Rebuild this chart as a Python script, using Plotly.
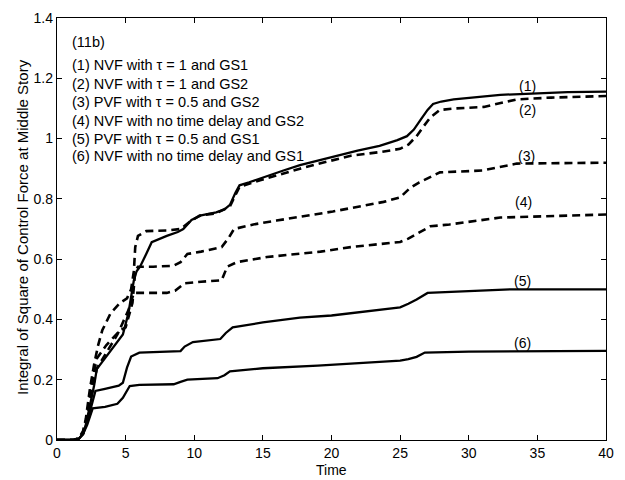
import plotly.graph_objects as go

# ---- data ----
t1 = [0, 1.2, 1.6, 1.9, 2.1, 2.3, 2.5, 2.7, 2.9, 3.3, 4.0, 4.8, 5.2, 5.6, 5.8, 6.05, 6.5, 6.9, 8.0, 8.8, 9.2, 9.8, 10.5, 11.6, 12.2, 12.6, 13.0, 13.3, 14.0, 14.8, 16.5, 17.7, 19.2, 21.9, 23.5, 24.8, 25.5, 26.0, 26.5, 27.0, 27.4, 28.0, 28.9, 32.3, 37.2, 40]
v1 = [0, 0, 0.005, 0.02, 0.05, 0.09, 0.13, 0.18, 0.235, 0.26, 0.30, 0.35, 0.42, 0.53, 0.56, 0.575, 0.617, 0.656, 0.677, 0.69, 0.70, 0.73, 0.745, 0.755, 0.765, 0.78, 0.82, 0.845, 0.855, 0.868, 0.894, 0.912, 0.93, 0.96, 0.976, 0.995, 1.008, 1.03, 1.063, 1.095, 1.115, 1.123, 1.13, 1.145, 1.154, 1.156]

t2 = [0, 1.2, 1.6, 1.9, 2.1, 2.4, 2.7, 3.0, 3.3, 3.9, 4.6, 5.1, 5.4, 5.6, 5.7, 5.9, 6.5, 8.0, 9.0, 9.7, 10.4, 11.6, 12.6, 13.0, 13.3, 14.8, 16.5, 17.7, 19.2, 21.4, 23.5, 25.0, 25.6, 26.2, 26.7, 27.2, 27.9, 29.0, 31.1, 33.5, 36, 40]
v2 = [0, 0, 0.006, 0.03, 0.07, 0.17, 0.25, 0.315, 0.364, 0.42, 0.455, 0.47, 0.50, 0.56, 0.64, 0.677, 0.693, 0.695, 0.70, 0.725, 0.745, 0.752, 0.775, 0.815, 0.84, 0.862, 0.885, 0.90, 0.918, 0.943, 0.955, 0.966, 0.98, 1.008, 1.04, 1.07, 1.095, 1.10, 1.105, 1.13, 1.136, 1.141]

t3 = [0, 1.2, 1.6, 1.9, 2.2, 2.5, 2.9, 3.6, 4.6, 5.0, 5.5, 5.7, 5.9, 7.0, 8.5, 9.0, 9.5, 10.5, 12.0, 12.5, 12.9, 14.3, 16, 17.7, 20.1, 23.8, 25.0, 25.7, 26.4, 27.0, 27.9, 31.0, 33.5, 40]
v3 = [0, 0, 0.005, 0.025, 0.08, 0.18, 0.27, 0.315, 0.364, 0.374, 0.455, 0.56, 0.575, 0.575, 0.578, 0.59, 0.617, 0.625, 0.64, 0.67, 0.70, 0.715, 0.728, 0.741, 0.758, 0.79, 0.805, 0.835, 0.855, 0.868, 0.888, 0.894, 0.917, 0.92]

t4 = [0, 1.2, 1.6, 1.9, 2.2, 2.5, 2.9, 3.6, 4.4, 5.2, 5.6, 6.0, 8.0, 8.6, 9.3, 10.5, 12.0, 12.4, 13.1, 15.3, 17.7, 19.2, 21.4, 25.0, 25.6, 26.2, 27.2, 28.6, 32.3, 40]
v4 = [0, 0, 0.005, 0.02, 0.07, 0.15, 0.237, 0.29, 0.35, 0.43, 0.488, 0.488, 0.488, 0.495, 0.52, 0.525, 0.53, 0.575, 0.59, 0.607, 0.618, 0.625, 0.64, 0.657, 0.668, 0.683, 0.709, 0.715, 0.738, 0.748]

t5 = [0, 1.2, 1.6, 1.9, 2.2, 2.5, 2.8, 3.5, 4.5, 4.8, 5.1, 5.4, 6.0, 9.0, 9.3, 9.9, 11.9, 12.3, 12.8, 15.0, 17.7, 20.0, 25.0, 25.6, 26.2, 27.0, 30.0, 33.0, 40]
v5 = [0, 0, 0.004, 0.02, 0.06, 0.11, 0.163, 0.17, 0.18, 0.19, 0.24, 0.277, 0.29, 0.295, 0.31, 0.325, 0.335, 0.355, 0.374, 0.39, 0.406, 0.413, 0.44, 0.452, 0.466, 0.488, 0.494, 0.50, 0.50]

t6 = [0, 1.2, 1.6, 1.9, 2.2, 2.4, 2.6, 3.5, 4.4, 4.8, 5.3, 6.0, 8.5, 9.0, 9.5, 11.7, 12.2, 12.6, 15.0, 19.0, 20.0, 25.0, 25.6, 26.2, 26.8, 30.0, 40]
v6 = [0, 0, 0.004, 0.02, 0.05, 0.08, 0.105, 0.11, 0.12, 0.14, 0.179, 0.183, 0.185, 0.193, 0.20, 0.205, 0.215, 0.228, 0.238, 0.247, 0.25, 0.263, 0.268, 0.276, 0.29, 0.293, 0.296]

curve_labels = ["(1)", "(2)", "(3)", "(4)", "(5)", "(6)"]
label_x = [34.3, 34.3, 34.2, 34.0, 33.9, 33.9]
label_y = [1.174, 1.096, 0.943, 0.79, 0.527, 0.322]

legend_title = "(11b)"
legend_lines = [
    "(1) NVF with τ = 1 and GS1",
    "(2) NVF with τ = 1 and GS2",
    "(3) PVF with τ = 0.5 and GS2",
    "(4) NVF with no time delay and GS2",
    "(5) PVF with τ = 0.5 and GS1",
    "(6) NVF with no time delay and GS1",
]

x_ticks = [0, 5, 10, 15, 20, 25, 30, 35, 40]
y_ticks = [0, 0.2, 0.4, 0.6, 0.8, 1.0, 1.2, 1.4]
y_ticktext = ["0", "0.2", "0.4", "0.6", "0.8", "1", "1.2", "1.4"]

# ---- figure ----
FONT = "Liberation Sans, Arial, sans-serif"
series = [(t1, v1, "solid"), (t2, v2, "dash"), (t3, v3, "dash"),
          (t4, v4, "dash"), (t5, v5, "solid"), (t6, v6, "solid")]

fig = go.Figure()
for t, v, style in series:
    fig.add_trace(go.Scatter(
        x=t, y=v, mode="lines",
        line=dict(color="black", width=2.3 if style == "solid" else 2.6,
                  dash="solid" if style == "solid" else "8px,5px"),
        showlegend=False, hoverinfo="skip"))

L, R, T, B = 57, 19, 10, 40
W, H = 625, 480
pw, ph = W - L - R, H - T - B

annotations = []
for lab, x, y in zip(curve_labels, label_x, label_y):
    annotations.append(dict(x=x, y=y, xref="x", yref="y", text=lab, showarrow=False,
                            font=dict(family=FONT, size=14, color="black")))

def py(pix_y):
    return (H - B - pix_y) / ph

def px(pix_x):
    return (pix_x - L) / pw

annotations.append(dict(x=px(70), y=py(34), xref="paper", yref="paper", text=legend_title,
                        showarrow=False, xanchor="left", yanchor="middle",
                        font=dict(family=FONT, size=14.5, color="black")))
ys = [58, 77, 96, 115, 133, 151]
for txt, yy in zip(legend_lines, ys):
    annotations.append(dict(x=px(70), y=py(yy), xref="paper", yref="paper", text=txt,
                            showarrow=False, xanchor="left", yanchor="middle",
                            font=dict(family=FONT, size=14.5, color="black")))

annotations.append(dict(x=px(22), y=py(223), xref="paper", yref="paper",
                        text="Integral of Square of Control Force at Middle Story",
                        textangle=-90, showarrow=False, xanchor="center", yanchor="middle",
                        font=dict(family=FONT, size=15, color="black")))
annotations.append(dict(x=px(331), y=py(471), xref="paper", yref="paper", text="Time",
                        showarrow=False, xanchor="center", yanchor="middle",
                        font=dict(family=FONT, size=14, color="black")))

axis_common = dict(showgrid=False, zeroline=False, showline=True, linecolor="black",
                   linewidth=1.3, mirror="ticks", ticks="inside", ticklen=5,
                   tickcolor="black", tickwidth=1.2,
                   tickfont=dict(family=FONT, size=14, color="black"))

fig.update_layout(
    width=W, height=H,
    margin=dict(l=L, r=R, t=T, b=B, pad=0),
    paper_bgcolor="white", plot_bgcolor="white",
    xaxis=dict(range=[0, 40], tickvals=x_ticks, **axis_common),
    yaxis=dict(range=[0, 1.4], tickvals=y_ticks, ticktext=y_ticktext, **axis_common),
    annotations=annotations,
    showlegend=False,
)

fig.write_html("out.html")
